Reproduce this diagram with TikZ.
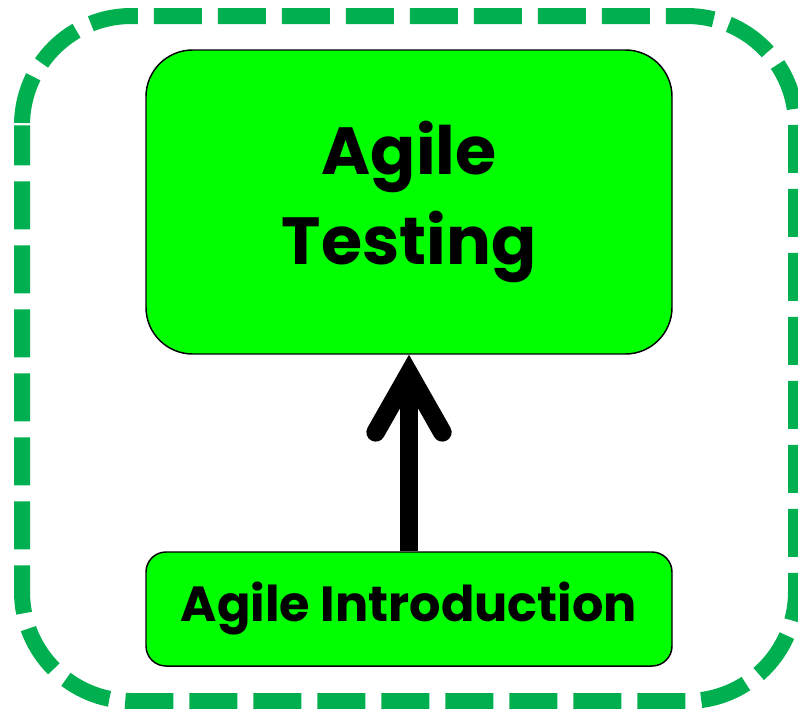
\documentclass[tikz,border=0pt]{standalone}
\usepackage{fontspec}
\setmainfont{Poppins}
\usetikzlibrary{positioning, calc, arrows.meta}

\definecolor{frameGreen}{HTML}{00B050}
\definecolor{boxGreen}{HTML}{00FF00}

\begin{document}
\begin{tikzpicture}[
    x=0.75pt, y=-0.75pt,
    % Styling
    topic box/.style={
        draw=black,
        fill=boxGreen,
        line width=1.1pt,
        font=\bfseries,
        align=center,
        minimum width=394.5pt
    },
    % Style for the upper box
    main topic/.style={
        topic box,
        minimum height=228pt,
        rounded corners=35pt,
        font=\fontsize{50}{68}\selectfont\bfseries
    },
    % Style for the lower box
    sub topic/.style={
        topic box,
        minimum height=85.5pt,
        rounded corners=15pt,
        font=\fontsize{37}{44}\selectfont\bfseries
    },
    frame style/.style={
        draw=frameGreen,
        line width=12pt,
        rounded corners=82pt,
        dash pattern=on 36pt off 12pt,
        dash phase=6pt
    },
    arrow style/.style={
        -{Straight Barb[length=44pt, width=50pt, line cap=round, line join=miter]},
        line width=14pt,
        color=black
    }
]

\useasboundingbox (0,0) rectangle (798,708);

% --- Outer frame ---
\draw[frame style] (22,16) rectangle (796,701);

% --- Boxes ---
\node[main topic] (testing) at (409,202) {Agile\\Testing};
\node[sub topic] (intro) at (409,609) {Agile Introduction};

% --- Connector ---
\draw[arrow style] (intro.north) -- (testing.south);

\end{tikzpicture}
\end{document}
